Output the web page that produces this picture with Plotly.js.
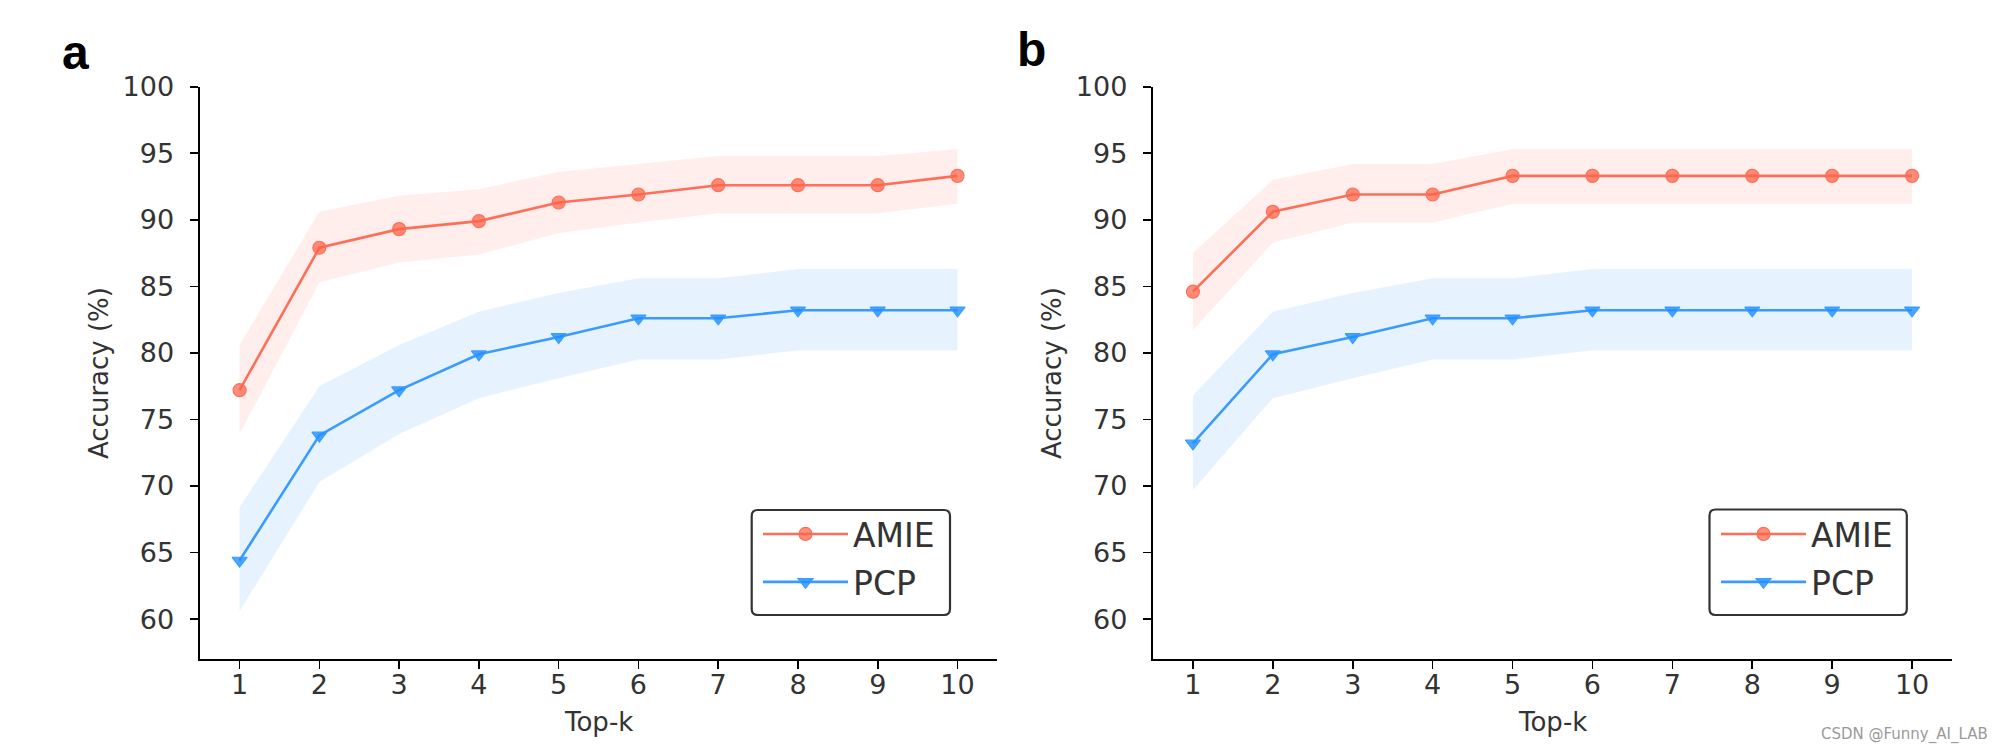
<!DOCTYPE html>
<html>
<head>
<meta charset="utf-8">
<script src="https://cdn.plot.ly/plotly-3.0.1.min.js"></script>
<style>
html,body{margin:0;padding:0;background:#fff;}
#chart{width:1999px;height:752px;}
</style>
</head>
<body>
<div id="chart"></div>
<script>
// ---- data ----
const topK = [1, 2, 3, 4, 5, 6, 7, 8, 9, 10];
const seriesNames = ['AMIE', 'PCP'];
const yTicks = [60, 65, 70, 75, 80, 85, 90, 95, 100];

// panel a
const amieA      = [77.2, 87.9, 89.3, 89.9, 91.3, 91.9, 92.6, 92.6, 92.6, 93.3];
const amieAUpper = [80.6, 90.6, 91.8, 92.3, 93.6, 94.2, 94.8, 94.8, 94.8, 95.3];
const amieALower = [73.9, 85.3, 86.8, 87.4, 89.0, 89.8, 90.5, 90.5, 90.5, 91.2];
const pcpA       = [64.4, 73.8, 77.2, 79.9, 81.2, 82.6, 82.6, 83.2, 83.2, 83.2];
const pcpAUpper  = [68.4, 77.5, 80.6, 83.1, 84.5, 85.6, 85.6, 86.3, 86.3, 86.3];
const pcpALower  = [60.6, 70.3, 73.9, 76.6, 78.1, 79.5, 79.5, 80.2, 80.2, 80.2];

// panel b
const amieB      = [84.6, 90.6, 91.9, 91.9, 93.3, 93.3, 93.3, 93.3, 93.3, 93.3];
const amieBUpper = [87.5, 93.0, 94.2, 94.2, 95.3, 95.3, 95.3, 95.3, 95.3, 95.3];
const amieBLower = [81.7, 88.3, 89.8, 89.8, 91.2, 91.2, 91.2, 91.2, 91.2, 91.2];
const pcpB       = [73.2, 79.9, 81.2, 82.6, 82.6, 83.2, 83.2, 83.2, 83.2, 83.2];
const pcpBUpper  = [76.8, 83.1, 84.5, 85.6, 85.6, 86.3, 86.3, 86.3, 86.3, 86.3];
const pcpBLower  = [69.7, 76.6, 78.1, 79.5, 79.5, 80.2, 80.2, 80.2, 80.2, 80.2];

// ---- styles ----
const FONT = 'DejaVu Sans, sans-serif';
const TXT = '#333333';
const styles = {
  AMIE: {line: '#FF6E58', marker: 'rgba(255,99,71,0.72)', band: 'rgba(255,99,71,0.11)', symbol: 'circle'},
  PCP:  {line: '#3A9BFF', marker: 'rgba(30,144,255,0.8)', band: 'rgba(30,144,255,0.11)', symbol: 'triangle-down'}
};

function bandTraces(upper, lower, name, xa, ya) {
  const s = styles[name];
  return [
    {x: topK, y: upper, xaxis: xa, yaxis: ya, mode: 'lines', line: {width: 0, color: s.band},
     showlegend: false, hoverinfo: 'skip'},
    {x: topK, y: lower, xaxis: xa, yaxis: ya, mode: 'lines', line: {width: 0, color: s.band},
     fill: 'tonexty', fillcolor: s.band, showlegend: false, hoverinfo: 'skip'}
  ];
}
function lineTrace(vals, name, xa, ya, legend) {
  const s = styles[name];
  return {x: topK, y: vals, xaxis: xa, yaxis: ya, name: name, legend: legend,
    legendgroup: legend + name, mode: 'lines+markers',
    line: {color: s.line, width: 2.6},
    marker: {symbol: s.symbol, size: 13, color: s.marker, line: {color: s.line, width: 1.2}}};
}

const traces = [].concat(
  bandTraces(amieAUpper, amieALower, 'AMIE', 'x', 'y'),
  bandTraces(pcpAUpper, pcpALower, 'PCP', 'x', 'y'),
  [lineTrace(amieA, 'AMIE', 'x', 'y', 'legend'), lineTrace(pcpA, 'PCP', 'x', 'y', 'legend')],
  bandTraces(amieBUpper, amieBLower, 'AMIE', 'x2', 'y2'),
  bandTraces(pcpBUpper, pcpBLower, 'PCP', 'x2', 'y2'),
  [lineTrace(amieB, 'AMIE', 'x2', 'y2', 'legend2'), lineTrace(pcpB, 'PCP', 'x2', 'y2', 'legend2')]
);

const W = 1999, H = 752;
const px = v => v / W;
const py = v => 1 - v / H;

function xAxis(dom) {
  return {domain: dom, range: [0.5, 10.5], tickvals: topK, ticktext: topK.map(String),
    showgrid: false, zeroline: false, showline: true, linecolor: '#000', linewidth: 2.2,
    ticks: 'outside', ticklen: 8, tickwidth: 1.6, tickcolor: '#000',
    ticklabelstandoff: -8,
    tickfont: {family: FONT, size: 27, color: TXT}, fixedrange: true};
}
function yAxis(anchor) {
  return {domain: [py(659), py(86.7)], range: [57, 100], tickvals: yTicks, anchor: anchor,
    showgrid: false, zeroline: false, showline: true, linecolor: '#000', linewidth: 2.2,
    ticks: 'outside', ticklen: 8, tickwidth: 1.6, tickcolor: '#000',
    ticklabelstandoff: 10,
    tickfont: {family: FONT, size: 27, color: TXT}, fixedrange: true};
}
function legendCfg(left, top) {
  return {x: px(left), xanchor: 'left', y: py(top), yanchor: 'top',
    bgcolor: 'rgba(0,0,0,0)', borderwidth: 0,
    font: {family: FONT, size: 33, color: TXT}, traceorder: 'grouped', tracegroupgap: 2,
    itemwidth: 85};
}
// rounded legend frame (paper coordinates)
function roundBox(l, t, r, b, rad) {
  const x0 = px(l), x1 = px(r), y0 = py(t), y1 = py(b), rx = rad / W, ry = rad / H;
  const p = `M${x0 + rx},${y0} L${x1 - rx},${y0} Q${x1},${y0} ${x1},${y0 - ry} ` +
    `L${x1},${y1 + ry} Q${x1},${y1} ${x1 - rx},${y1} L${x0 + rx},${y1} Q${x0},${y1} ${x0},${y1 + ry} ` +
    `L${x0},${y0 - ry} Q${x0},${y0} ${x0 + rx},${y0} Z`;
  return {type: 'path', xref: 'paper', yref: 'paper', path: p, layer: 'above',
    fillcolor: '#fff', line: {color: '#333', width: 2.2}};
}

const axTitle = (text, x, y, angle) => ({text: text, xref: 'paper', yref: 'paper', x: px(x), y: py(y),
  xanchor: 'center', yanchor: 'middle', showarrow: false, textangle: angle || 0,
  font: {family: FONT, size: 26, color: TXT}});
const letter = (text, x, y) => ({text: '<b>' + text + '</b>', xref: 'paper', yref: 'paper', x: px(x), y: py(y),
  xanchor: 'left', yanchor: 'middle', showarrow: false,
  font: {family: 'Liberation Sans, Arial, sans-serif', size: 48, color: '#000'}});

const layout = {
  width: W, height: H, margin: {l: 0, r: 0, t: 0, b: 0},
  paper_bgcolor: '#fff', plot_bgcolor: '#fff', showlegend: true,
  xaxis: xAxis([px(199.7), px(997.4)]),
  yaxis: yAxis('x'),
  xaxis2: xAxis([px(1153), px(1952)]),
  yaxis2: yAxis('x2'),
  legend: legendCfg(758, 506),
  legend2: legendCfg(1716, 506),
  shapes: [roundBox(751.7, 510, 950, 615, 6), roundBox(1709.5, 509.5, 1906.8, 615, 6)],
  annotations: [
    axTitle('Top-k', 598.5, 722),
    axTitle('Top-k', 1552.5, 722),
    axTitle('Accuracy (%)', 99, 373, -90),
    axTitle('Accuracy (%)', 1052, 373, -90),
    letter('a', 60, 52),
    letter('b', 1015, 50),
    {text: 'CSDN @Funny_AI_LAB', xref: 'paper', yref: 'paper', x: px(1990), y: py(734),
     xanchor: 'right', yanchor: 'middle', showarrow: false,
     font: {family: FONT, size: 15, color: '#9a9a9a'}}
  ]
};

Plotly.newPlot('chart', traces, layout, {staticPlot: true, displayModeBar: false});
</script>
</body>
</html>
